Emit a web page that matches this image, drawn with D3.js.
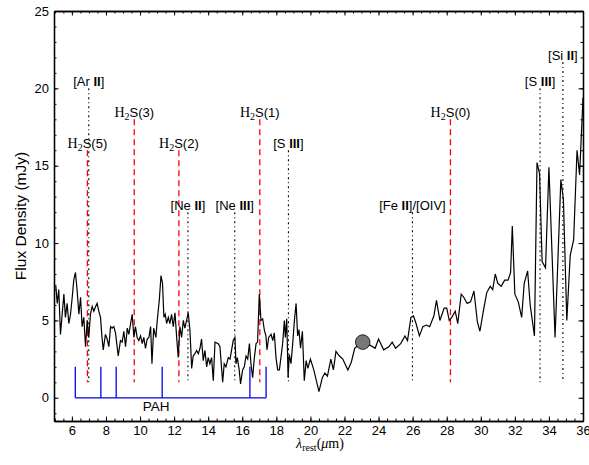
<!DOCTYPE html>
<html>
<head>
<meta charset="utf-8">
<script src="https://cdn.jsdelivr.net/npm/d3@7"></script>
<style>
  body { margin: 0; background: #fff; }
  text { font-family: "Liberation Sans", Arial, sans-serif; }
</style>
</head>
<body>
<svg id="chart"></svg>
<script>
// spectrum (wavelength in micron, flux in mJy)
var wave = [5.05, 5.14, 5.23, 5.33, 5.43, 5.53, 5.62, 5.72, 5.82, 5.92, 6.02, 6.11, 6.21, 6.31, 6.41, 6.51,
  6.60, 6.70, 6.80, 6.90, 6.99, 7.09, 7.19, 7.29, 7.39, 7.48, 7.58, 7.68, 7.76, 7.84, 7.97, 8.07, 8.17,
  8.27, 8.36, 8.46, 8.56, 8.72, 8.85, 8.95, 9.05, 9.15, 9.25, 9.34, 9.54, 9.64, 9.73, 9.83, 9.93, 10.03,
  10.13, 10.22, 10.32, 10.42, 10.52, 10.62, 10.70, 10.80, 10.93, 11.01, 11.13, 11.23, 11.32, 11.40, 11.48,
  11.56, 11.66, 11.75, 11.85, 11.95, 12.05, 12.15, 12.24, 12.34, 12.44, 12.54, 12.63, 12.73, 12.83, 12.93,
  13.03, 13.12, 13.22, 13.32, 13.42, 13.52, 13.61, 13.71, 13.81, 13.91, 14.00, 14.10, 14.20, 14.30, 14.40,
  14.59, 14.69, 14.85, 14.94, 15.04, 15.18, 15.28, 15.37, 15.47, 15.57, 15.63, 15.71, 15.82, 15.90, 16.02,
  16.12, 16.22, 16.32, 16.42, 16.51, 16.61, 16.71, 16.81, 16.90, 17.00, 17.10, 17.20, 17.30, 17.39, 17.45,
  17.55, 17.69, 17.79, 17.88, 17.98, 18.08, 18.18, 18.27, 18.37, 18.47, 18.53, 18.61, 18.69, 18.76, 18.86,
  18.96, 19.06, 19.16, 19.25, 19.33, 19.42, 19.53, 19.64, 19.75, 19.85, 20.0, 20.2, 20.5, 20.7, 20.85,
  21.0, 21.2, 21.35, 21.5, 21.7, 21.9, 22.2, 22.4, 22.6, 22.9, 23.1, 23.3, 23.5, 23.8, 24.0, 24.3, 24.6,
  24.8, 25.0, 25.3, 25.55, 25.7, 25.9, 26.05, 26.2, 26.4, 26.6, 26.8, 27.0, 27.25, 27.4, 27.6, 27.85, 28.0,
  28.15, 28.3, 28.5, 28.65, 28.85, 29.0, 29.2, 29.4, 29.6, 29.8, 29.95, 30.15, 30.35, 30.55, 30.7, 30.85,
  31.0, 31.2, 31.4, 31.6, 31.75, 31.85, 32.0, 32.2, 32.4, 32.55, 32.75, 32.9, 33.15, 33.3, 33.45, 33.6,
  33.8, 34.0, 34.36, 34.7, 34.85, 35.05, 35.25, 35.45, 35.65, 35.8, 36.0];
var flux = [7.3, 6.1, 7.0, 4.1, 5.4, 6.7, 5.2, 6.1, 4.8, 5.4, 6.5, 7.6, 8.1, 6.9, 5.4, 6.5,
  4.6, 5.2, 3.3, 5.0, 3.9, 5.4, 5.9, 5.6, 5.9, 6.1, 5.6, 5.2, 4.0, 3.1, 4.1, 3.8, 3.3,
  4.6, 4.5, 4.6, 4.2, 2.7, 3.7, 3.6, 4.3, 3.3, 4.5, 4.1, 5.4, 3.9, 4.6, 3.9, 3.7, 4.0,
  3.5, 3.9, 3.2, 3.8, 3.9, 4.6, 2.2, 4.5, 3.9, 5.0, 6.3, 7.9, 7.4, 5.2, 5.4,
  4.8, 5.2, 4.8, 5.4, 4.6, 5.5, 3.9, 2.6, 4.6, 3.9, 5.0, 4.5, 5.0, 5.5, 4.35,
  1.9, 2.7, 2.85, 3.06, 2.85, 3.2, 3.8, 2.4, 3.06, 2.0, 2.6, 2.2, 2.6, 1.1, 3.6,
  3.5, 3.3, 1.0, 2.2, 2.0, 2.6, 2.5, 3.06, 3.7, 3.9, 2.2, 2.6, 1.8, 0.9, 1.8,
  2.0, 2.7, 2.5, 3.5, 2.2, 1.3, 2.6, 3.5, 3.6, 6.7, 5.0, 5.1, 4.35, 4.0, 3.1,
  3.9, 4.1, 3.7, 4.2, 2.6, 1.8, 1.8, 2.6, 3.5, 5.0, 3.9, 5.1, 1.3, 2.8, 2.2,
  3.5, 5.0, 6.1, 4.0, 4.4, 3.2, 4.3, 1.1, 2.4, 1.9, 2.5, 1.8, 0.4, 1.3, 1.6,
  1.4, 2.5, 1.8, 3.0, 2.7, 2.5, 1.8, 2.3, 3.2, 3.5, 4.0, 3.4, 3.4, 3.2, 3.8, 3.1, 3.3,
  3.6, 3.2, 3.5, 4.0, 3.7, 5.2, 5.3, 4.8, 4.0, 4.6, 4.7, 4.6, 5.3, 6.3, 5.0, 5.8, 5.8,
  5.0, 5.2, 5.6, 4.8, 6.7, 6.5, 6.1, 6.2, 6.9, 4.9, 4.3, 5.6, 6.8, 7.2, 7.0, 8.0,
  7.4, 7.2, 7.6, 7.6, 8.1, 11.1, 6.7, 6.2, 5.2, 7.4, 8.2, 6.0, 4.0, 15.2, 14.5, 8.8,
  8.4, 14.9, 3.9, 14.1, 12.8, 5.0, 9.2, 10.2, 16.0, 14.4, 19.4];

// emission line markers
var lineNames = ["H2S(5)", "[Ar II]", "H2S(3)", "H2S(2)", "[Ne II]", "[Ne III]", "H2S(1)", "[S III]",
  "[Fe II]/[OIV]", "H2S(0)", "[S III]", "[Si II]"];
var lineWave = [6.91, 6.99, 9.66, 12.28, 12.81, 15.56, 17.03, 18.71, 25.99, 28.22, 33.48, 34.82];
var lineTop = [16, 20, 18, 16, 12, 12, 18, 16, 12, 18, 20, 21.7];
var lineBottom = 1;

// PAH feature positions
var pahWave = [6.2, 7.7, 8.6, 11.3, 16.45, 17.4];
var pahTop = 2;

// source marker
var markWave = 23.07, markFlux = 3.6;

var xMajor = d3.range(6, 37, 2);
var xMinor = d3.range(5, 36.01, 0.5);
var yMajor = [0, 5, 10, 15, 20, 25];
var yMinor = d3.range(-1, 25.01, 1);

var W = 589, H = 465;
var margin = { top: 11, right: 6, bottom: 44, left: 54 };

var svg = d3.select("#chart").attr("width", W).attr("height", H);

var x = d3.scaleLinear().domain([4.95, 36]).range([margin.left, W - margin.right]);
var y = d3.scaleLinear().domain([-1.5, 25]).range([H - margin.bottom, margin.top]);

svg.append("defs").append("clipPath").attr("id", "plot")
  .append("rect")
  .attr("x", margin.left).attr("y", margin.top)
  .attr("width", W - margin.left - margin.right)
  .attr("height", H - margin.top - margin.bottom);

// PAH bracket
var pah = svg.append("g").attr("stroke", "#0000ee").attr("stroke-width", 1.3);
pah.append("line")
  .attr("x1", x(d3.min(pahWave))).attr("x2", x(d3.max(pahWave)))
  .attr("y1", y(0)).attr("y2", y(0));
pah.selectAll(".pahbar")
  .data(pahWave)
  .join("line")
  .attr("class", "pahbar")
  .attr("x1", d => x(d)).attr("x2", d => x(d))
  .attr("y1", y(0)).attr("y2", y(pahTop));
svg.append("text")
  .attr("x", x(10.95)).attr("y", y(-0.85))
  .attr("text-anchor", "middle")
  .style("font-size", "13.5px")
  .text("PAH");

// line markers
var lines = lineNames.map((n, i) => ({ name: n, w: lineWave[i], top: lineTop[i], h2: n.indexOf("H2") === 0 }));

svg.selectAll(".mark")
  .data(lines)
  .join("line")
  .attr("class", "mark")
  .attr("x1", d => x(d.w)).attr("x2", d => x(d.w))
  .attr("y1", d => y(d.top)).attr("y2", y(lineBottom))
  .attr("stroke", d => d.h2 ? "#ff0000" : "#000")
  .attr("stroke-width", d => d.h2 ? 1.3 : 1.1)
  .attr("stroke-dasharray", d => d.h2 ? "6,4" : "2,3,1,3");

var labels = svg.selectAll(".lab")
  .data(lines)
  .join("text")
  .attr("class", "lab")
  .attr("x", d => x(d.w))
  .attr("y", d => y(d.top) - 2.5)
  .attr("text-anchor", "middle")
  .style("font-size", "13px");

labels.each(function (d) {
  var t = d3.select(this);
  if (d.h2) {
    t.append("tspan").style("font-family", "'Liberation Serif', serif").style("font-size", "14px").text("H");
    t.append("tspan").style("font-family", "'Liberation Serif', serif").style("font-size", "10px")
      .attr("dy", 3).text("2");
    t.append("tspan").attr("dy", -3).text(d.name.slice(2));
  } else {
    // roman numerals after a space are bold
    d.name.split(/( I+\])/).forEach(function (part) {
      if (!part) return;
      if (/^ I+\]$/.test(part)) {
        t.append("tspan").text(" ");
        t.append("tspan").style("font-weight", "bold").text(part.slice(1, -1));
        t.append("tspan").text("]");
      } else {
        t.append("tspan").text(part);
      }
    });
  }
});

// spectrum
svg.append("path")
  .datum(wave.map((w, i) => [w, flux[i]]))
  .attr("clip-path", "url(#plot)")
  .attr("fill", "none")
  .attr("stroke", "#000")
  .attr("stroke-width", 1.2)
  .attr("stroke-linejoin", "miter")
  .attr("d", d3.line().x(d => x(d[0])).y(d => y(d[1])));

svg.append("circle")
  .attr("cx", x(markWave)).attr("cy", y(markFlux))
  .attr("r", 7.3)
  .attr("fill", "#777")
  .attr("stroke", "#000")
  .attr("stroke-width", 0.8);

// axes, ticks pointing inward
var xb = H - margin.bottom, xt = margin.top, yl = margin.left, yr = W - margin.right;

svg.append("g").attr("transform", `translate(0, ${xb})`)
  .call(d3.axisBottom(x).tickValues(xMinor).tickSize(-2.5).tickSizeOuter(0).tickFormat(""));
svg.append("g").attr("class", "xaxis").attr("transform", `translate(0, ${xb})`)
  .call(d3.axisBottom(x).tickValues(xMajor).tickSize(-4.5).tickSizeOuter(0).tickPadding(5).tickFormat(d3.format("d")));
svg.append("g").attr("transform", `translate(0, ${xt})`)
  .call(d3.axisTop(x).tickValues(xMinor).tickSize(-2.5).tickSizeOuter(0).tickFormat(""));
svg.append("g").attr("transform", `translate(0, ${xt})`)
  .call(d3.axisTop(x).tickValues(xMajor).tickSize(-4.5).tickSizeOuter(0).tickFormat(""));

svg.append("g").attr("transform", `translate(${yl}, 0)`)
  .call(d3.axisLeft(y).tickValues(yMinor).tickSize(-2.5).tickSizeOuter(0).tickFormat(""));
svg.append("g").attr("class", "yaxis").attr("transform", `translate(${yl}, 0)`)
  .call(d3.axisLeft(y).tickValues(yMajor).tickSize(-4.5).tickSizeOuter(0).tickPadding(5).tickFormat(d3.format("d")));
svg.append("g").attr("transform", `translate(${yr}, 0)`)
  .call(d3.axisRight(y).tickValues(yMinor).tickSize(-2.5).tickSizeOuter(0).tickFormat(""));
svg.append("g").attr("transform", `translate(${yr}, 0)`)
  .call(d3.axisRight(y).tickValues(yMajor).tickSize(-4.5).tickSizeOuter(0).tickFormat(""));

svg.selectAll(".domain").attr("stroke-width", 1.3);
svg.selectAll(".tick line").attr("stroke-width", 1);
svg.selectAll(".xaxis text, .yaxis text")
  .style("font-family", "'Liberation Sans', Arial, sans-serif")
  .style("font-size", "13px")
  .attr("fill", "#000");

// axis titles
svg.append("text")
  .attr("transform", `translate(26, ${(margin.top + xb) / 2}) rotate(-90)`)
  .attr("text-anchor", "middle")
  .style("font-size", "15.5px")
  .text("Flux Density (mJy)");

var xt2 = svg.append("text")
  .attr("x", 320).attr("y", 448)
  .attr("text-anchor", "middle")
  .style("font-family", "'Liberation Serif', serif")
  .style("font-size", "14px");
xt2.append("tspan").style("font-style", "italic").text("λ");
xt2.append("tspan").attr("dy", 3).style("font-size", "10px").text("rest");
xt2.append("tspan").attr("dy", -3).text("(");
xt2.append("tspan").style("font-style", "italic").text("μ");
xt2.append("tspan").text("m)");
</script>
</body>
</html>
